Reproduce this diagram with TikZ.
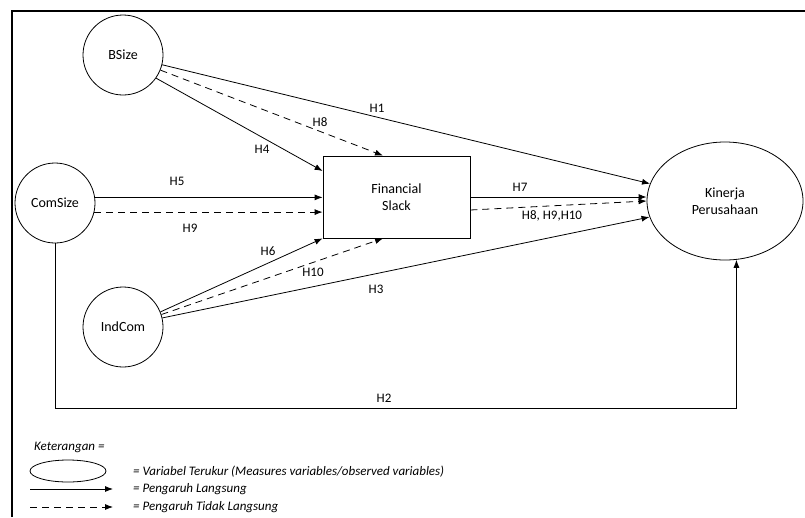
\documentclass[tikz,border=0pt]{standalone}
\usepackage{fontspec}
\setmainfont{Carlito}
\usetikzlibrary{arrows.meta,shapes.geometric}
\begin{document}
\begin{tikzpicture}[x=1pt,y=-1pt,
  every node/.style={font=\fontsize{14}{17}\selectfont},
  var/.style={draw,circle,minimum size=80pt,inner sep=0pt,line width=0.8pt},
  conn/.style={line width=0.8pt,-{Latex[length=8pt,width=6pt]}},
  ind/.style={conn,dash pattern=on 7pt off 5pt},
  lab/.style={font=\fontsize{13}{15}\selectfont,inner sep=1pt},
  leg/.style={font=\fontsize{13}{15}\itshape,anchor=west,inner sep=0pt}]
\useasboundingbox (0,0) rectangle (805,517);
\draw[line width=2pt] (12,517) -- (12,10.5) -- (806,10.5);

\node[var] (B) at (123,55) {BSize};
\node[var] (C) at (55,203) {ComSize};
\node[var] (I) at (123,327) {IndCom};
\node[draw,line width=0.8pt,minimum width=147pt,minimum height=82pt,align=center] (F) at (396.5,197) {Financial\\Slack};
\node[draw,ellipse,line width=0.8pt,minimum width=156pt,minimum height=118pt,align=center,inner sep=0pt] (K) at (725,201) {Kinerja\\Perusahaan};

% BSize
\draw[conn] (B.-14) -- (K.167);
\draw[ind] (B.-22) -- ([xshift=-13.5pt]F.north);
\draw[conn] (B.-35) -- ([yshift=26pt]F.west);
% ComSize
\draw[conn] (C.8) -- (C.8 -| F.west);
\draw[ind] (C.-13) -- (C.-13 -| F.west);
% IndCom
\draw[conn] (I.22) -- (F.south west);
\draw[ind] (I.18) -- ([xshift=-13.5pt]F.south);
\draw[conn] (I.13) -- (K.192);
% Financial slack
\draw[conn] (F.east) -- (F.east -| K.west);
\draw[ind] ([yshift=-13pt]F.east) -- (K.west);
% H2
\coordinate (h2y) at (0,408);
\draw[conn] (C.south) |- (K.-79 |- h2y) -- (K.-79);

\node[lab] (l1) at (377,108) {H1};
\node[lab] (l8) at (320,122) {H8};
\node[lab] (l4) at (262,149) {H4};
\node[lab] (l5) at (177,181) {H5};
\node[lab] (l9) at (190,228) {H9};
\node[lab] (l6) at (268,251) {H6};
\node[lab] (l10) at (313,272) {H10};
\node[lab] (l3) at (376,289) {H3};
\node[lab] (l7) at (520,187) {H7};
\node[lab] (l89) at (552,216) {H8, H9,H10};
\node[lab] (l2) at (384,398) {H2};

% legend
\node[leg] (kt) at (34,447) {Keterangan =};
\node[draw,ellipse,line width=0.8pt,minimum width=76pt,minimum height=22pt,inner sep=0pt] (le) at (68,471) {};
\node[leg] (t1) at (133,472) {= Variabel Terukur (Measures variables/observed variables)};
\coordinate (a1) at (30,489); \coordinate (b1) at (113,489);
\draw[conn] (a1) -- (b1);
\node[leg] (t2) at (133,489) {= Pengaruh Langsung};
\coordinate (a2) at (30,507); \coordinate (b2) at (113,507);
\draw[ind] (a2) -- (b2);
\node[leg] (t3) at (133,507) {= Pengaruh Tidak Langsung};
\end{tikzpicture}
\end{document}
